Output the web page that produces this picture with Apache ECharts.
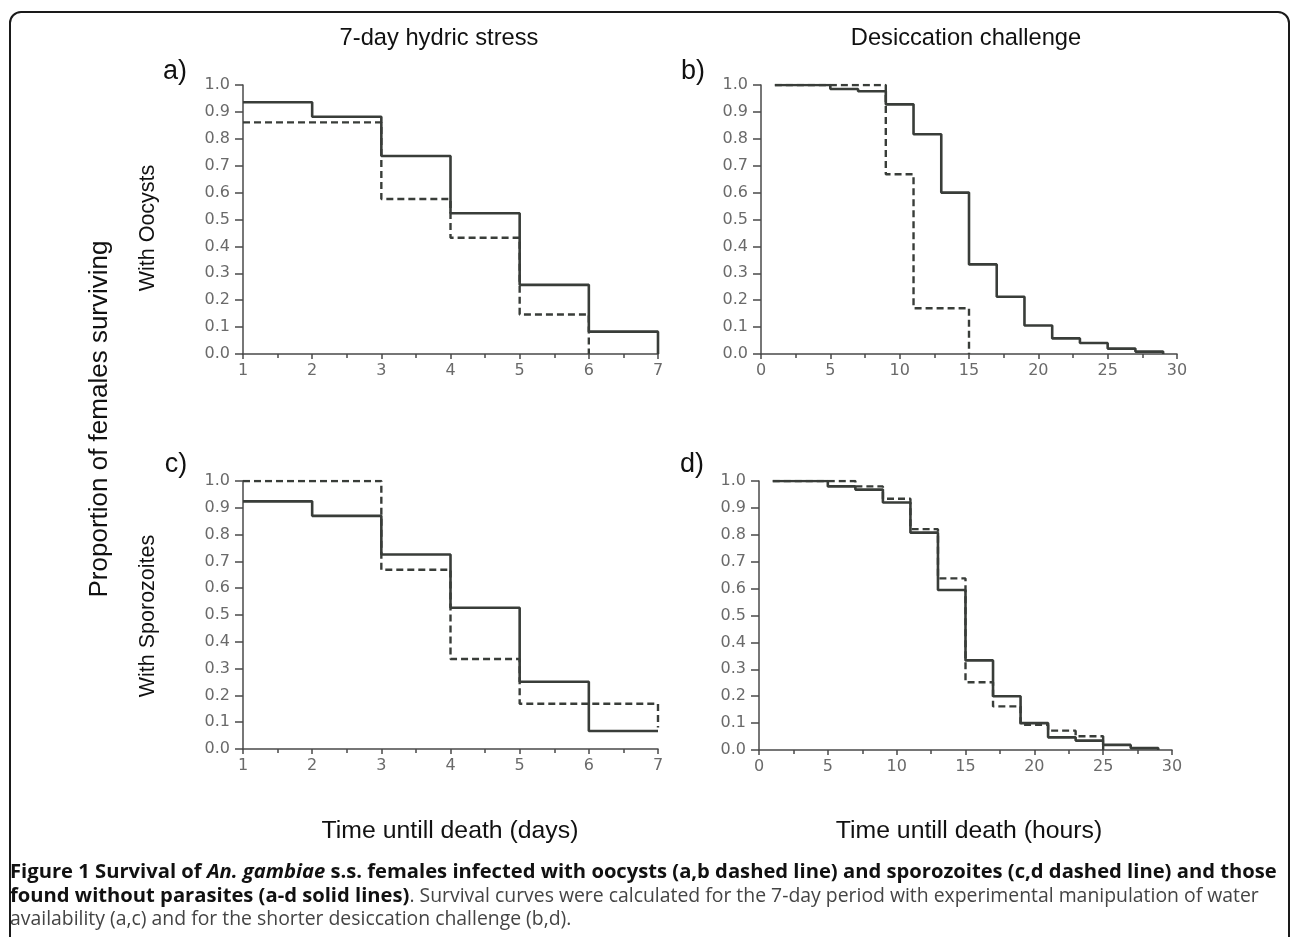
<!DOCTYPE html>
<html>
<head>
<meta charset="utf-8">
<script src="https://cdn.jsdelivr.net/npm/echarts@6/dist/echarts.min.js"></script>
<style>
  html, body { margin: 0; padding: 0; background: #fff; }
  #wrap { position: relative; width: 1292px; height: 937px; overflow: hidden; }
  #frame { position: absolute; left: 9px; top: 11px; width: 1281px; height: 980px;
           border: 2px solid #1a1a1a; border-radius: 12px; box-sizing: border-box; }
  #chart { position: absolute; left: 0; top: 0; width: 1292px; height: 937px; }
  #caption { position: absolute; left: 10px; top: 859px; width: 1290px;
             font-family: "Open Sans", sans-serif; font-size: 19.4px; line-height: 23.5px;
             color: #444; white-space: nowrap; }
  #caption b { color: #111; font-weight: 700; font-size: 20.2px; }
</style>
</head>
<body>
<div id="wrap">
  <div id="frame"></div>
  <div id="chart"></div>
  <div id="caption">
    <b>Figure 1 Survival of <i>An. gambiae</i> s.s. females infected with oocysts (a,b dashed line) and sporozoites (c,d dashed line) and those</b><br>
    <b>found without parasites (a-d solid lines)</b>. Survival curves were calculated for the 7-day period with experimental manipulation of water<br>
    availability (a,c) and for the shorter desiccation challenge (b,d).
  </div>
</div>
<script>
// ---- Data (time, proportion surviving; each value holds until next time) ----
// Panel a: 7-day hydric stress, with oocysts
const aSolidTime = [1, 2, 3, 4, 5, 6, 7];
const aSolidProp = [0.936, 0.882, 0.736, 0.523, 0.257, 0.083, 0];
const aDashTime  = [1, 3, 4, 5, 6];
const aDashProp  = [0.861, 0.576, 0.432, 0.147, 0];

// Panel b: desiccation challenge, with oocysts
const bSolidTime = [1, 5, 7, 9, 11, 13, 15, 17, 19, 21, 23, 25, 27, 29];
const bSolidProp = [1.0, 0.985, 0.977, 0.928, 0.817, 0.600, 0.333, 0.213, 0.106, 0.058, 0.041, 0.020, 0.009, 0];
const bDashTime  = [1, 9, 11, 15];
const bDashProp  = [1.0, 0.668, 0.170, 0];

// Panel c: 7-day hydric stress, with sporozoites
const cSolidTime = [1, 2, 3, 4, 5, 6, 7];
const cSolidProp = [0.924, 0.870, 0.726, 0.527, 0.251, 0.067, 0.067];
const cDashTime  = [1, 3, 4, 5, 7];
const cDashProp  = [1.0, 0.669, 0.336, 0.169, 0.08];

// Panel d: desiccation challenge, with sporozoites
const dSolidTime = [1, 5, 7, 9, 11, 13, 15, 17, 19, 21, 23, 25, 27, 29];
const dSolidProp = [1.0, 0.980, 0.968, 0.920, 0.808, 0.595, 0.333, 0.200, 0.100, 0.047, 0.035, 0.019, 0.007, 0];
const dDashTime  = [1, 7, 9, 11, 13, 15, 17, 19, 21, 23, 25];
const dDashProp  = [1.0, 0.980, 0.934, 0.821, 0.638, 0.252, 0.162, 0.094, 0.072, 0.051, 0];

// Axis ranges / tick settings
const daysAxis  = { min: 1, max: 7, interval: 1 };
const hoursAxis = { min: 0, max: 30, interval: 5 };
const propAxis  = { min: 0, max: 1, interval: 0.1 };

// Text
const colTitles = ['7-day hydric stress', 'Desiccation challenge'];
const rowTitles = ['With Oocysts', 'With Sporozoites'];
const panelLetters = ['a)', 'b)', 'c)', 'd)'];
const xTitles = ['Time untill death (days)', 'Time untill death (hours)'];
const yTitle = 'Proportion of females surviving';

// ---- Build ----
const zip = (t, p) => t.map((v, i) => [v, p[i]]);
const AX = '#4a4a4a', LBL = '#6a6a6a', LINE = '#393d39';
const FONT = 'DejaVu Sans';

const grids = [
  { left: 243, top: 85, width: 415, height: 269 },
  { left: 761, top: 85, width: 416, height: 269 },
  { left: 243, top: 481, width: 415, height: 268 },
  { left: 759, top: 481, width: 413, height: 269 }
];

function xAxisFor(i, r) {
  return {
    type: 'value', gridIndex: i, min: r.min, max: r.max, interval: r.interval,
    axisLine: { show: true, lineStyle: { color: AX, width: 1.5 } },
    axisTick: { show: true, length: 5, lineStyle: { color: AX, width: 1.5 } },
    minorTick: { show: true, splitNumber: 2, length: 4, lineStyle: { color: AX, width: 1.5 } },
    splitLine: { show: false },
    axisLabel: { color: LBL, fontSize: 16, fontFamily: FONT, margin: 9 }
  };
}
function yAxisFor(i) {
  return {
    type: 'value', gridIndex: i, min: propAxis.min, max: propAxis.max, interval: propAxis.interval,
    axisLine: { show: true, lineStyle: { color: AX, width: 1.5 } },
    axisTick: { show: true, length: 8, lineStyle: { color: AX, width: 1.5 } },
    splitLine: { show: false },
    axisLabel: { color: LBL, fontSize: 16, fontFamily: FONT, margin: 13,
                 formatter: v => v.toFixed(1) }
  };
}
function solid(i, t, p) {
  return { type: 'line', xAxisIndex: i, yAxisIndex: i, step: 'end', data: zip(t, p),
           showSymbol: false, symbol: 'none', z: 3,
           lineStyle: { color: LINE, width: 2.6 } };
}
function dashed(i, t, p) {
  return { type: 'line', xAxisIndex: i, yAxisIndex: i, step: 'end', data: zip(t, p),
           showSymbol: false, symbol: 'none', z: 4,
           lineStyle: { color: LINE, width: 2.4, type: [7, 4] } };
}

function txt(x, y, s, size, extra) {
  return Object.assign({ type: 'text', x: x, y: y,
    style: Object.assign({ text: s, fontSize: size, fontFamily: 'Liberation Sans', fill: '#111',
                           align: 'center', verticalAlign: 'middle' }, extra || {}) });
}

const chart = echarts.init(document.getElementById('chart'), null, { renderer: 'canvas' });
chart.setOption({
  animation: false,
  grid: grids,
  xAxis: [xAxisFor(0, daysAxis), xAxisFor(1, hoursAxis), xAxisFor(2, daysAxis), xAxisFor(3, hoursAxis)],
  yAxis: [yAxisFor(0), yAxisFor(1), yAxisFor(2), yAxisFor(3)],
  series: [
    solid(0, aSolidTime, aSolidProp), dashed(0, aDashTime, aDashProp),
    solid(1, bSolidTime, bSolidProp), dashed(1, bDashTime, bDashProp),
    solid(2, cSolidTime, cSolidProp), dashed(2, cDashTime, cDashProp),
    solid(3, dSolidTime, dSolidProp), dashed(3, dDashTime, dDashProp)
  ],
  graphic: [
    txt(439, 38, colTitles[0], 23.7),
    txt(966, 38, colTitles[1], 23.7),
    txt(175, 72, panelLetters[0], 27),
    txt(693, 72, panelLetters[1], 27),
    txt(176, 465, panelLetters[2], 27),
    txt(692, 465, panelLetters[3], 27),
    txt(450, 831, xTitles[0], 24.8),
    txt(969, 831, xTitles[1], 24.8),
    Object.assign(txt(100, 419, yTitle, 26), { rotation: Math.PI / 2 }),
    Object.assign(txt(148, 228, rowTitles[0], 21.5), { rotation: Math.PI / 2 }),
    Object.assign(txt(148, 616, rowTitles[1], 21.5), { rotation: Math.PI / 2 })
  ]
});
</script>
</body>
</html>
